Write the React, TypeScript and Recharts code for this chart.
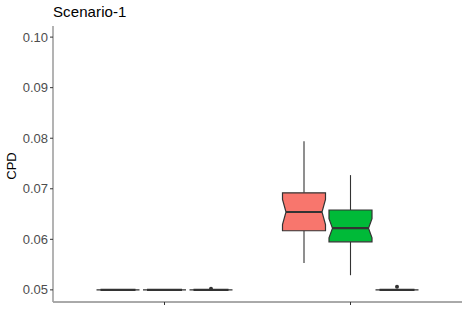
import React from "react";
import { ComposedChart, Bar, XAxis, YAxis } from "recharts";

// x categories (ggplot showed no labels, only ticks)
const categories = ["1", "2"];

// [lower whisker, q1, median, q3, upper whisker] per category
const boxRed = [
  [0.05, 0.05, 0.05, 0.05, 0.05],
  [0.0553, 0.0617, 0.0654, 0.0692, 0.0794],
];
const boxGreen = [
  [0.05, 0.05, 0.05, 0.05, 0.05],
  [0.0529, 0.0595, 0.0622, 0.0658, 0.0727],
];
const boxBlue = [
  [0.05, 0.05, 0.05, 0.05, 0.05],
  [0.05, 0.05, 0.05, 0.05, 0.05],
];

// notch half-heights (data units)
const notchRed = [0, 0.0025];
const notchGreen = [0, 0.0019];
const notchBlue = [0, 0];

// outlier points
const outRed: number[][] = [[], []];
const outGreen: number[][] = [[], []];
const outBlue: number[][] = [[0.0502], [0.0506]];

const yTicks = [0.05, 0.06, 0.07, 0.08, 0.09, 0.1];

const series = [
  { key: "red", box: boxRed, notch: notchRed, out: outRed, fill: "#F8766D" },
  { key: "green", box: boxGreen, notch: notchGreen, out: outGreen, fill: "#00BA38" },
  { key: "blue", box: boxBlue, notch: notchBlue, out: outBlue, fill: "#619CFF" },
];

const data = categories.map((cat, i) => {
  const row: any = { cat };
  series.forEach((s) => {
    const [lo, q1, med, q3, hi] = s.box[i];
    const all = [lo, hi, ...s.out[i]];
    row[s.key] = {
      lo, q1, med, q3, hi,
      notch: s.notch[i],
      out: s.out[i],
      range: [Math.min(...all), Math.max(...all)],
    };
  });
  return row;
});

const INK = "#333333";
const FONT = "'Liberation Sans', Arial, sans-serif";

function BoxShape(props: any) {
  const { x, y, width, height, payload, skey, fill } = props;
  const b = payload[skey];
  const [rLo, rHi] = b.range;
  const py = (v: number) => (rHi === rLo ? y : y + ((rHi - v) / (rHi - rLo)) * height);
  const cx = x + width / 2;
  const x0 = x;
  const x1 = x + width;
  const yq1 = py(b.q1);
  const yq3 = py(b.q3);
  const ym = py(b.med);
  const flat = b.q3 - b.q1 < 1e-9;
  const inset = flat ? 4 : 3.5;
  let boxPath: string;
  if (b.notch > 0) {
    const nt = py(b.med + b.notch);
    const nb = py(b.med - b.notch);
    boxPath = `M${x0},${yq3} L${x1},${yq3} L${x1},${nt} L${x1 - inset},${ym} L${x1},${nb} L${x1},${yq1} L${x0},${yq1} L${x0},${nb} L${x0 + inset},${ym} L${x0},${nt} Z`;
  } else {
    boxPath = `M${x0},${yq3} L${x1},${yq3} L${x1},${yq1} L${x0},${yq1} Z`;
  }
  return (
    <g>
      <line x1={cx} x2={cx} y1={py(b.hi)} y2={yq3} stroke={INK} strokeWidth={1.1} />
      <line x1={cx} x2={cx} y1={yq1} y2={py(b.lo)} stroke={INK} strokeWidth={1.1} />
      <path d={boxPath} fill={fill} stroke={INK} strokeWidth={1.2} />
      <line x1={x0 + inset} x2={x1 - inset} y1={ym} y2={ym} stroke={INK} strokeWidth={2.2} />
      {b.out.map((v: number, k: number) => (
        <circle key={k} cx={cx} cy={py(v)} r={2} fill={INK} />
      ))}
    </g>
  );
}

function YTick(props: any) {
  const { x, y, payload } = props;
  return (
    <text x={x} y={y} dy="0.35em" textAnchor="end" fontSize={13} fill="#4d4d4d" fontFamily={FONT}>
      {Number(payload.value).toFixed(2)}
    </text>
  );
}

export default function App() {
  return (
    <div style={{ position: "absolute", left: 0, top: 0, width: 469, height: 312, fontFamily: FONT }}>
      <ComposedChart
        width={469}
        height={312}
        data={data}
        margin={{ top: 26, right: 7, bottom: 0, left: 0 }}
        barSize={43}
        barGap={3.5}
      >
        <XAxis
          dataKey="cat"
          height={10}
          padding={{ left: 18.5, right: 18.5 }}
          tickSize={3}
          tickFormatter={() => ""}
          axisLine={{ stroke: "#555", strokeWidth: 1 }}
          tickLine={{ stroke: "#333" }}
        />
        <XAxis xAxisId="top" dataKey="cat" orientation="top" height={0} tick={false} tickLine={false} axisLine={{ stroke: "#555", strokeWidth: 1 }} />
        <YAxis
          domain={[0.0476, 0.1022]}
          ticks={yTicks}
          width={53}
          tickSize={3}
          tickMargin={2}
          tick={<YTick />}
          axisLine={{ stroke: "#a0a0a0", strokeWidth: 1.6 }}
          tickLine={{ stroke: "#333" }}
        />
        <YAxis yAxisId="right" orientation="right" width={0} tick={false} tickLine={false} axisLine={{ stroke: "#a0a0a0", strokeWidth: 1.6 }} />
        {series.map((s) => (
          <Bar
            key={s.key}
            dataKey={(row: any) => row[s.key].range}
            fill={s.fill}
            isAnimationActive={false}
            shape={(p: any) => <BoxShape {...p} skey={s.key} fill={s.fill} />}
          />
        ))}
      </ComposedChart>
      <div style={{ position: "absolute", zIndex: 2, left: 53, top: 4, fontSize: 15, lineHeight: "15px", color: "#000", whiteSpace: "nowrap", letterSpacing: 0.1 }}>
        Scenario-1
      </div>
      <div
        style={{
          position: "absolute",
          zIndex: 2,
          left: 12,
          top: 166,
          fontSize: 13,
          lineHeight: "14px",
          color: "#000",
          whiteSpace: "nowrap",
          transform: "translate(-50%, -50%) rotate(-90deg)",
        }}
      >
        CPD
      </div>
    </div>
  );
}
